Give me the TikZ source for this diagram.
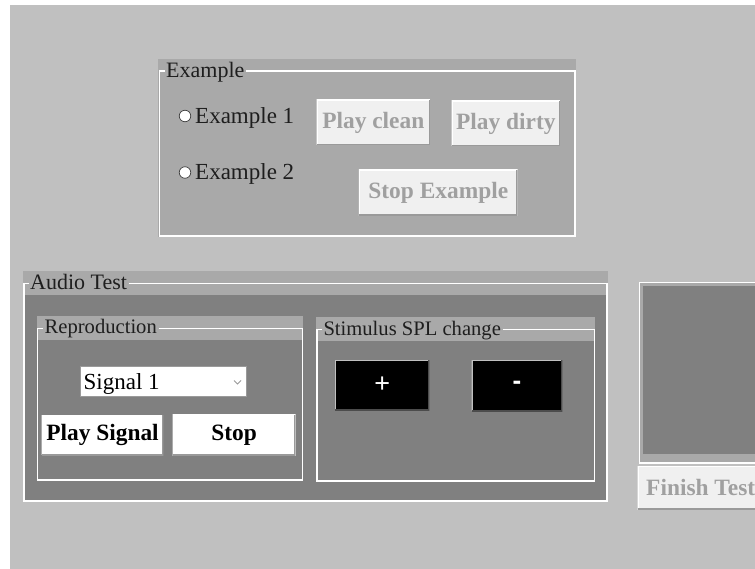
\documentclass[tikz,border=0pt]{standalone}
\usepackage{fontspec}
\setmainfont{Liberation Serif}
\newfontfamily\sansf{Liberation Sans}
\definecolor{bgc}{HTML}{C0C0C0}
\definecolor{bandc}{HTML}{A9A9A9}
\definecolor{darkc}{HTML}{808080}
\definecolor{btnl}{HTML}{F0F0F0}
\definecolor{distxt}{HTML}{A0A0A0}
\definecolor{txtc}{HTML}{1E1E1E}
\definecolor{shadec}{HTML}{9A9A9A}
\begin{document}
\begin{tikzpicture}[x=1pt,y=-1pt,
  frameline/.style={draw=white, line width=1.2pt},
  ttl/.style={anchor=base west, inner xsep=1.5pt, inner ysep=0pt, text=txtc, font=\fontsize{22}{22}\selectfont},
  subttl/.style={anchor=base west, inner xsep=1.5pt, inner ysep=0pt, text=txtc, font=\fontsize{20.6}{20.6}\selectfont},
  lbl/.style={anchor=base west, inner sep=0pt, text=txtc, font=\fontsize{23}{23}\selectfont},
  bevel/.style 2 args={path picture={
    \draw[#1, line width=2.4pt] (path picture bounding box.south west) -- (path picture bounding box.north west) -- (path picture bounding box.north east);
    \draw[#2, line width=2.6pt] (path picture bounding box.south west) -- (path picture bounding box.south east) -- (path picture bounding box.north east);}},
  lbtn/.style={fill=btnl, bevel={white}{shadec}, inner sep=0pt, text=distxt, font=\bfseries\fontsize{23.4}{23.4}\selectfont},
  wbtn/.style={fill=white, bevel={white}{shadec}, inner sep=0pt, text=black, font=\bfseries\fontsize{23.4}{23.4}\selectfont},
  kbtn/.style={fill=black, bevel={bgc}{black!70}, inner sep=0pt, text=white},
  radio/.style={circle, draw=black!75, line width=0.7pt, fill=white, inner sep=0pt, minimum size=11.5pt}
]
\useasboundingbox (0,0) rectangle (755,569);
\clip (0,0) rectangle (755,569);
\fill[white] (0,0) rectangle (755,569);
\fill[bgc] (10,5) rectangle (755,569);

% ---------- Example panel ----------
\fill[bandc] (158,59) rectangle (576,237);
\node[ttl] (exT) at (164.5,78) {Example};
\draw[frameline] (exT.east |- 0,71) -- (575,71) -- (575,236) -- (159.5,236) -- (159.5,71) -- (exT.west |- 0,71);
\node[radio] (r1) at (185,116) {};
\node[lbl] (e1) at (195,123.3) {Example 1};
\node[radio] (r2) at (185,172.5) {};
\node[lbl] (e2) at (195,180) {Example 2};
\node[lbtn, minimum width=113.3pt, minimum height=45pt] (pclean) at (373.3,122.5) {Play clean};
\node[lbtn, minimum width=108.3pt, minimum height=45pt] (pdirty) at (505.8,123.5) {Play dirty};
\node[lbtn, minimum width=158.7pt, minimum height=45.7pt] (stopex) at (438.3,192.8) {Stop Example};

% ---------- Audio Test panel ----------
\fill[bandc] (23,271) rectangle (607.5,295);
\fill[darkc] (24,295) rectangle (607,501);
\node[ttl] (atT) at (28.5,289.3) {Audio Test};
\draw[frameline] (atT.east |- 0,283.5) -- (607,283.5) -- (607,501) -- (24,501) -- (24,283.5) -- (atT.west |- 0,283.5);

% Reproduction
\fill[bandc] (36.7,316) rectangle (302.5,340);
\node[subttl] (rpT) at (43,334) {Reproduction};
\draw[frameline] (rpT.east |- 0,328.5) -- (302.3,328.5) -- (302.3,480) -- (37.7,480) -- (37.7,328.5) -- (rpT.west |- 0,328.5);
\node[draw=shadec, line width=1pt, fill=white, minimum width=166.7pt, minimum height=30.7pt, inner sep=0pt] (sig) at (163.35,381.35) {};
\node[lbl, text=black] (sigT) at (83.5,389.3) {Signal 1};
\draw[shadec, line width=0.8pt] (234,380.5) -- (237.5,384) -- (241,380.5);
\node[wbtn, minimum width=121.6pt, minimum height=40pt] (psig) at (102.5,435) {Play Signal};
\node[wbtn, minimum width=123pt, minimum height=40.7pt] (stp) at (234.2,435.3) {Stop};

% Stimulus SPL change
\fill[bandc] (316,316.7) rectangle (595,341);
\node[subttl] (stT) at (321.8,335.7) {Stimulus SPL change};
\draw[frameline] (stT.east |- 0,329.3) -- (594.3,329.3) -- (594.3,481) -- (317,481) -- (317,329.3) -- (stT.west |- 0,329.3);
\node[kbtn, minimum width=94.3pt, minimum height=50pt, font=\sansf\fontsize{27}{27}\selectfont] (plus) at (382.2,385) {+};
\node[kbtn, minimum width=90.6pt, minimum height=51pt, font=\sansf\bfseries\fontsize{26}{26}\selectfont] (minus) at (517,385.5) {-};

% ---------- Right panel ----------
\draw[frameline, fill=bandc] (639.5,282.5) rectangle (780,463);
\fill[darkc] (642.7,286) rectangle (780,454.3);
\node[lbtn, anchor=north west, minimum height=43.3pt, minimum width=145pt] (fin) at (637.3,466) {};
\node[anchor=base west, inner sep=0pt, text=distxt, font=\bfseries\fontsize{23.4}{23.4}\selectfont] (finT) at (646,495) {Finish Test};
\end{tikzpicture}
\end{document}
